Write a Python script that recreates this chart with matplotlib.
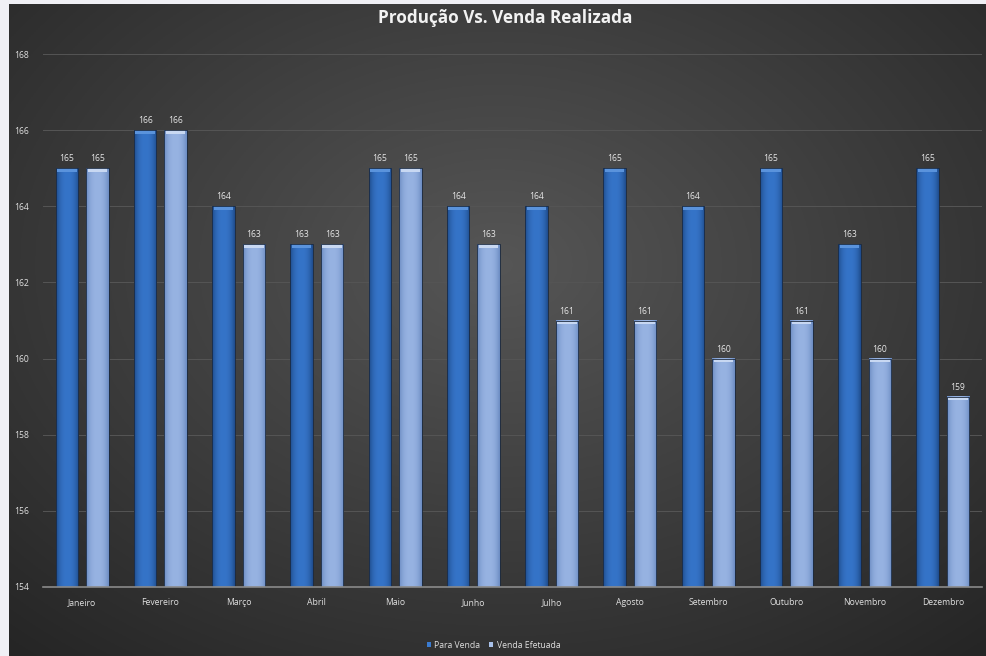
import matplotlib.pyplot as plt
import numpy as np
from matplotlib.patches import Rectangle

meses = ['Janeiro', 'Fevereiro', 'Março', 'Abril', 'Maio', 'Junho',
         'Julho', 'Agosto', 'Setembro', 'Outubro', 'Novembro', 'Dezembro']
para_venda = [165, 166, 164, 163, 165, 164, 164, 165, 164, 165, 163, 165]
venda_efetuada = [165, 166, 163, 163, 165, 163, 161, 161, 160, 161, 160, 159]
yticks = [154, 156, 158, 160, 162, 164, 166, 168]

plt.rcParams['font.family'] = ['Open Sans', 'DejaVu Sans']

fig = plt.figure(figsize=(9.87, 6.56), dpi=100)
fig.patch.set_facecolor('#f0f0f5')

# dark panel with radial gradient
bg = fig.add_axes([9 / 987, 0, 1 - 9 / 987, 1 - 4 / 656])
bg.set_axis_off()
gx, gy = np.meshgrid(np.linspace(0, 1, 400), np.linspace(0, 1, 300))
r = np.sqrt(((gx - 0.5) / 0.75) ** 2 + ((gy - 0.6) / 0.8) ** 2)
r = np.clip(r, 0, 1)
c0 = np.array([0x56, 0x56, 0x56]) / 255
c1 = np.array([0x25, 0x25, 0x25]) / 255
img = c0[None, None, :] * (1 - r[..., None]) + c1[None, None, :] * r[..., None]
bg.imshow(img, extent=[0, 1, 0, 1], origin='lower', aspect='auto')
bg.set_xlim(0, 1)
bg.set_ylim(0, 1)

ax = fig.add_axes([43 / 987, 1 - 587 / 656, (982 - 43) / 987, (587 - 54) / 656])
ax.patch.set_alpha(0)
ymin, ymax = 154, 168
ax.set_ylim(ymin, ymax)
ax.set_xlim(-0.5, len(meses) - 0.5)

x = np.arange(len(meses))
w = 0.29
off = 0.195


def grad_bar(xc, top, dark, light, cap):
    x0, x1 = xc - w / 2, xc + w / 2
    t = np.linspace(0, 1, 50)
    prof = 1 - (2 * np.abs(t - 0.5)) ** 2.5
    row = np.array(dark)[None, :] * (1 - prof[:, None]) + np.array(light)[None, :] * prof[:, None]
    im = row[None, :, :]
    ax.imshow(im, extent=[x0, x1, ymin, top], aspect='auto', zorder=2, interpolation='bilinear')
    ax.add_patch(Rectangle((x0 + 0.02, top - 0.1), w - 0.04, 0.1, facecolor=cap,
                           edgecolor='none', zorder=3))
    ax.add_patch(Rectangle((x0, ymin), w, top - ymin, facecolor='none',
                           edgecolor='#1b2a40', linewidth=0.6, zorder=3))


dark1 = np.array([0x1f, 0x4c, 0x8c]) / 255
light1 = np.array([0x35, 0x74, 0xc8]) / 255
dark2 = np.array([0x6c, 0x8c, 0xc2]) / 255
light2 = np.array([0x97, 0xb3, 0xe2]) / 255

for i in range(len(meses)):
    grad_bar(x[i] - off, para_venda[i], dark1, light1, '#5a93dc')
    grad_bar(x[i] + off, venda_efetuada[i], dark2, light2, '#c8d8f2')
    ax.text(x[i] - off, para_venda[i] + 0.13, str(para_venda[i]), ha='center', va='bottom',
            color='#e6e6e6', fontsize=6.2)
    ax.text(x[i] + off, venda_efetuada[i] + 0.13, str(venda_efetuada[i]), ha='center', va='bottom',
            color='#e6e6e6', fontsize=6.2)

ax.set_yticks(yticks)
ax.set_xticks(x)
ax.set_xticklabels(meses)
ax.tick_params(axis='both', colors='#e0e0e0', labelsize=6.2, length=0)
ax.tick_params(axis='x', pad=8)
ax.tick_params(axis='y', pad=10)
ax.yaxis.grid(True, color='#555555', linewidth=0.7)
ax.set_axisbelow(True)
for s in ['top', 'right', 'left']:
    ax.spines[s].set_visible(False)
ax.spines['bottom'].set_color('#8a8a8a')
ax.spines['bottom'].set_linewidth(1.2)
ax.spines['bottom'].set_zorder(4)

fig.text(0.512, 1 - 18 / 656, 'Produção Vs. Venda Realizada', ha='center', va='center',
         color='#f2f2f2', fontsize=12.3, fontweight='bold')

h1 = Rectangle((0, 0), 1, 1, facecolor='#3a7bd0', edgecolor='none')
h2 = Rectangle((0, 0), 1, 1, facecolor='#a8c0e8', edgecolor='none')
leg = fig.legend([h1, h2], ['Para Venda', 'Venda Efetuada'], loc='center',
                 bbox_to_anchor=(0.5, 1 - 645 / 656), ncol=2, frameon=False,
                 fontsize=6.2, handlelength=0.5, handleheight=0.5, handletextpad=0.4,
                 columnspacing=1.0, labelcolor='#e0e0e0')

fig.savefig('out.png', dpi=100, facecolor=fig.get_facecolor())
